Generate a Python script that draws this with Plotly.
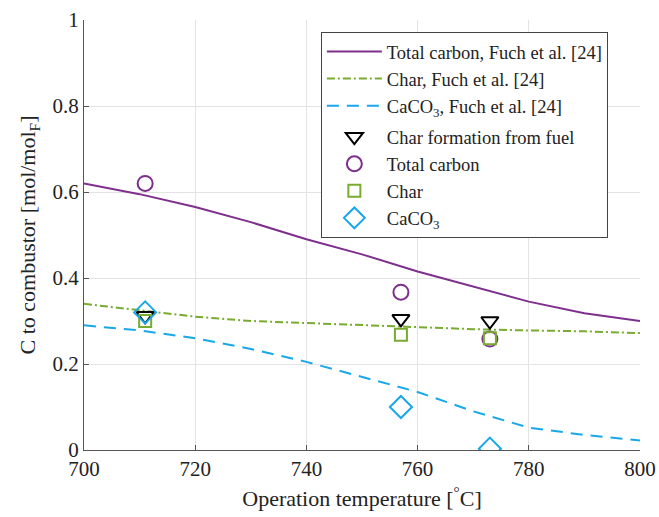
import plotly.graph_objects as go

# Model curves (Fuch et al. [24])
t_model = [700, 710, 720, 730, 740, 750, 760, 770, 780, 790, 800]
total_model = [0.62, 0.595, 0.565, 0.53, 0.49, 0.455, 0.415, 0.38, 0.345, 0.318, 0.30]
char_model = [0.34, 0.325, 0.31, 0.30, 0.295, 0.29, 0.285, 0.281, 0.278, 0.276, 0.272]
caco3_model = [0.29, 0.278, 0.26, 0.235, 0.205, 0.17, 0.135, 0.09, 0.052, 0.035, 0.022]

# Experimental points
t_exp = [711, 757, 773]
char_formation = [0.312, 0.305, 0.30]
total_exp = [0.62, 0.367, 0.258]
char_exp = [0.30, 0.268, 0.26]
caco3_exp = [0.32, 0.10, 0.003]

purple = "#7E2F8E"
green = "#77AC30"
cyan = "#18A8EA"
font = "Liberation Serif"

fig = go.Figure()
fig.add_trace(go.Scatter(x=t_model, y=total_model, mode="lines", name="Total carbon, Fuch et al. [24]",
                         line=dict(color=purple, width=2), legendgroup="a"))
fig.add_trace(go.Scatter(x=t_model, y=char_model, mode="lines", name="Char, Fuch et al. [24]",
                         line=dict(color=green, width=2, dash="8px,3px,2px,3px"), legendgroup="a"))
fig.add_trace(go.Scatter(x=t_model, y=caco3_model, mode="lines", name="CaCO<sub>3</sub>, Fuch et al. [24]",
                         line=dict(color=cyan, width=2, dash="12px,8px"), legendgroup="a"))
fig.add_trace(go.Scatter(x=t_exp, y=char_formation, mode="markers", name="Char formation from fuel",
                         marker=dict(symbol="triangle-down-open", size=15, color="black", line=dict(width=2)),
                         legendgroup="b"))
fig.add_trace(go.Scatter(x=t_exp, y=total_exp, mode="markers", name="Total carbon",
                         marker=dict(symbol="circle-open", size=15, color=purple, line=dict(width=2)),
                         legendgroup="b"))
fig.add_trace(go.Scatter(x=t_exp, y=char_exp, mode="markers", name="Char",
                         marker=dict(symbol="square-open", size=12, color=green, line=dict(width=2)),
                         legendgroup="b"))
fig.add_trace(go.Scatter(x=t_exp, y=caco3_exp, mode="markers", name="CaCO<sub>3</sub>",
                         marker=dict(symbol="diamond-open", size=17, color=cyan, line=dict(width=2)),
                         legendgroup="b"))

fig.update_layout(
    width=659, height=517,
    margin=dict(l=84, r=19, t=20, b=67),
    paper_bgcolor="white", plot_bgcolor="white",
    font=dict(family=font, size=21, color="#222"),
    showlegend=True,
    legend=dict(x=0.426, y=0.972, xanchor="left", yanchor="top",
                bgcolor="white", bordercolor="#444", borderwidth=1,
                font=dict(family=font, size=18.5, color="#222"),
                itemwidth=55,
                tracegroupgap=4, traceorder="grouped"),
    xaxis=dict(range=[700, 800], tickvals=[700, 720, 740, 760, 780, 800],
               showgrid=True, gridcolor="#e3e3e3", zeroline=False,
               showline=True, linecolor="#555", linewidth=1,
               ticks="inside", ticklen=5, tickcolor="#555", automargin=False,
               title=dict(text="Operation temperature [<sup>°</sup>C]", font=dict(size=22), standoff=10)),
    yaxis=dict(range=[0, 1], tickvals=[0, 0.2, 0.4, 0.6, 0.8, 1],
               ticktext=["0", "0.2", "0.4", "0.6", "0.8", "1"],
               showgrid=True, gridcolor="#e3e3e3", zeroline=False,
               showline=True, linecolor="#555", linewidth=1,
               ticks="inside", ticklen=5, tickcolor="#555", automargin=False,
               title=dict(text="C to combustor [mol/mol<sub>F</sub>]", font=dict(size=22), standoff=10)),
)

fig.write_html("out.html")
